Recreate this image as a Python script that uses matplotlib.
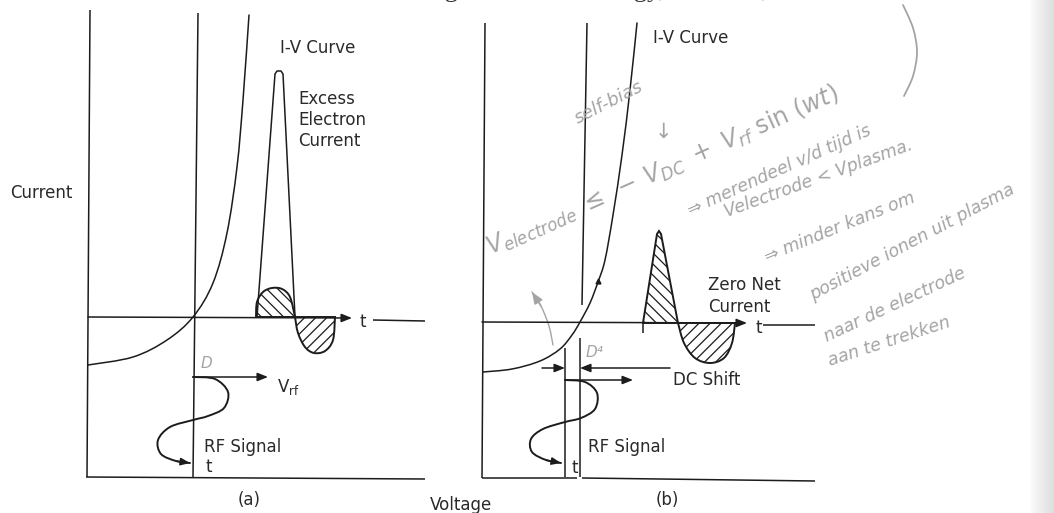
import matplotlib
matplotlib.use('Agg')
import matplotlib.pyplot as plt
import numpy as np
from matplotlib.path import Path
from matplotlib.patches import PathPatch

INK = '#1c1c1c'
PENCIL = '#a4a4a4'

# Everything is laid out in pixel coordinates of the page (y grows downward).

# ---- (a) electrode without DC shift ----
a_frame = [((90, 10), (87, 477)), ((86, 477), (425, 479)),
           ((198, 13), (193, 477)), ((373, 320), (425, 321))]
a_time_axis = ((88, 317), (352, 318))
a_iv_curve = [(88, 365), (133, 357), (167, 340), (193, 317), (213, 283),
              (227, 233), (237, 167), (243, 100), (249, 15)]
a_excess_current = [(257, 317), (275, 74), (277, 71), (281, 71), (283, 74),
                    (295, 317)]
a_pos_lobe = [(256, 317), (257, 302), (263, 292), (272, 288), (282, 289),
              (290, 297), (295, 317)]
a_neg_lobe = [(295, 317), (298, 333), (305, 347), (314, 353), (325, 351),
              (333, 340), (335, 317)]
a_rf_signal = [(193, 377), (215, 379), (228, 392), (224, 408), (208, 416),
               (193, 420), (170, 427), (158, 440), (161, 454), (176, 461),
               (190, 463)]
a_rf_arrow = ((193, 377), (268, 377))
a_labels = [('I-V Curve', 280, 48), ('Excess\nElectron\nCurrent', 298, 120),
            ('Current', 10, 193), ('RF Signal', 204, 447), ('t', 205, 467),
            ('t', 360, 322), ('(a)', 238, 500)]

# ---- (b) electrode with DC shift ----
b_frame = [((485, 23), (482, 478)), ((482, 478), (577, 478)),
           ((582, 478), (815, 481)), ((587, 23), (582, 305)),
           ((580, 338), (580, 477)), ((565, 348), (565, 477)),
           ((763, 325), (815, 325)), ((643, 323), (643, 333))]
b_time_axis = ((482, 322), (747, 323))
b_iv_curve = [(483, 372), (512, 369), (540, 361), (560, 349), (572, 335),
              (580, 322), (590, 303), (598, 282), (605, 260), (613, 215),
              (622, 155), (630, 90), (637, 23)]
b_pos_lobe = [(643, 323), (657, 234), (659, 231), (661, 234), (678, 323)]
b_neg_lobe = [(678, 323), (684, 343), (695, 358), (710, 363), (724, 358),
              (732, 343), (735, 323)]
b_rf_signal = [(565, 380), (585, 382), (597, 393), (595, 409), (581, 418),
               (565, 422), (543, 429), (531, 439), (532, 452), (546, 460),
               (561, 463)]
b_rf_arrow = ((565, 380), (633, 380))
b_shift_arrows = [((542, 368), (565, 368)), ((670, 368), (580, 368))]
b_labels = [('I-V Curve', 653, 38), ('Zero Net\nCurrent', 708, 296),
            ('DC Shift', 673, 380), ('RF Signal', 588, 447), ('t', 571, 468),
            ('t', 755, 328), ('(b)', 656, 500)]

# ---- pencil notes written over (b) ----
notes = [(578, 124, 27, 13, 'self-bias'),
         (655, 138, 0, 15, '\u2193'),
         (490, 255, 24, 17, r'$V_{electrode}\ \leq\ -\,V_{DC}\ +\ V_{rf}\ \sin\,(wt)$'),
         (690, 215, 24, 12.5, '\u21d2 merendeel v/d tijd is'),
         (727, 217, 20, 12.5, 'Velectrode < Vplasma.'),
         (767, 262, 22, 12.5, '\u21d2 minder kans om'),
         (813, 300, 28, 12.5, 'positieve ionen uit plasma'),
         (827, 342, 25, 12.5, 'naar de electrode'),
         (830, 366, 18, 12.5, 'aan te trekken'),
         (201, 368, 0, 11, 'D'),
         (586, 357, 0, 11, 'D\u2074')]
note_bracket = [(903, 5), (913, 28), (917, 52), (913, 76), (904, 96)]
note_arrow = [(553, 345), (549, 326), (541, 306), (532, 292)]


def smooth(points):
    """Catmull-Rom spline through the points, as cubic Bezier segments."""
    p = np.asarray(points, float)
    ext = np.vstack([p[0], p, p[-1]])
    verts, codes = [p[0]], [Path.MOVETO]
    for i in range(1, len(ext) - 2):
        p0, p1, p2, p3 = ext[i - 1], ext[i], ext[i + 1], ext[i + 2]
        verts += [p1 + (p2 - p0) / 6, p2 - (p3 - p1) / 6, p2]
        codes += [Path.CURVE4] * 3
    return verts, codes


def draw_curve(ax, points, color=INK, lw=1.1):
    verts, codes = smooth(points)
    ax.add_patch(PathPatch(Path(verts, codes), fill=False, edgecolor=color,
                           lw=lw, capstyle='round'))


def draw_lobe(ax, points, hatch, curved=True):
    if curved:
        verts, codes = smooth(points)
    else:
        verts = list(points)
        codes = [Path.MOVETO] + [Path.LINETO] * (len(points) - 1)
    verts = verts + [points[0], points[0]]
    codes = codes + [Path.LINETO, Path.CLOSEPOLY]
    ax.add_patch(PathPatch(Path(verts, codes), facecolor='none',
                           edgecolor=INK, lw=1.4, hatch=hatch))


def draw_arrow(ax, start, end, color=INK, size=9):
    ax.annotate('', xy=end, xytext=start,
                arrowprops=dict(arrowstyle='-|>,head_length=0.7,head_width=0.28',
                                color=color, lw=1.1, shrinkA=0, shrinkB=0,
                                mutation_scale=size))


def draw_segments(ax, segments):
    for (x0, y0), (x1, y1) in segments:
        ax.plot([x0, x1], [y0, y1], color=INK, lw=1.1, solid_capstyle='butt')


def draw_labels(ax, labels):
    for text, x, y in labels:
        ax.text(x, y, text, ha='left', va='center', fontsize=12,
                color='#2a2a2a', linespacing=1.25)


plt.rcParams['font.family'] = ['DejaVu Sans']
plt.rcParams['mathtext.fontset'] = 'dejavusans'
plt.rcParams['hatch.linewidth'] = 0.9

fig = plt.figure(figsize=(10.54, 5.13), dpi=100)
ax = fig.add_axes([0, 0, 1, 1])
ax.set_xlim(0, 1054)
ax.set_ylim(513, 0)
ax.axis('off')

# page edge shading on the right
shade = np.linspace(0, 1, 40).reshape(1, -1) ** 0.6
ax.imshow(shade, extent=(1030, 1054, 513, 0), cmap='Greys', vmin=0, vmax=4.5,
          aspect='auto', zorder=0)

# bottom edge of the body text line above the figure
ax.text(458, -3, 'long', fontsize=19, family='Liberation Serif',
        color='#333333', ha='right', va='baseline')
ax.text(902, -3, 'energy, however, also that the', fontsize=19,
        family='Liberation Serif', color='#333333', ha='right',
        va='baseline')

# (a)
draw_segments(ax, a_frame)
draw_arrow(ax, *a_time_axis)
draw_curve(ax, a_iv_curve)
ax.plot(*zip(*a_excess_current), color=INK, lw=1.1)
draw_lobe(ax, a_pos_lobe, '\\\\\\')
draw_lobe(ax, a_neg_lobe, '///')
draw_curve(ax, a_rf_signal, lw=1.4)
draw_arrow(ax, a_rf_signal[-2], a_rf_signal[-1], size=8)
draw_arrow(ax, *a_rf_arrow)
draw_labels(ax, a_labels)
ax.text(277, 387, r'V$_{\mathregular{rf}}$', fontsize=12, color='#2a2a2a',
        ha='left', va='center')
ax.text(430, 505, 'Voltage', fontsize=12, color='#2a2a2a', ha='left',
        va='center')

# (b)
draw_segments(ax, b_frame)
draw_arrow(ax, *b_time_axis)
draw_curve(ax, b_iv_curve)
ax.plot([598], [281], marker='^', color=INK, markersize=3.5)
draw_lobe(ax, b_pos_lobe, '\\\\\\', curved=False)
draw_lobe(ax, b_neg_lobe, '///')
draw_curve(ax, b_rf_signal, lw=1.4)
draw_arrow(ax, b_rf_signal[-2], b_rf_signal[-1], size=8)
draw_arrow(ax, *b_rf_arrow)
for start, end in b_shift_arrows:
    draw_arrow(ax, start, end)
draw_labels(ax, b_labels)

# pencil notes
for x, y, angle, size, text in notes:
    ax.text(x, y, text, rotation=angle, rotation_mode='anchor', ha='left',
            va='baseline', fontsize=size, color=PENCIL, style='italic')
draw_curve(ax, note_bracket, color=PENCIL, lw=1.3)
draw_curve(ax, note_arrow, color=PENCIL, lw=1.0)
draw_arrow(ax, note_arrow[-2], note_arrow[-1], color=PENCIL, size=10)

fig.savefig('out.png', dpi=100, facecolor='white')
